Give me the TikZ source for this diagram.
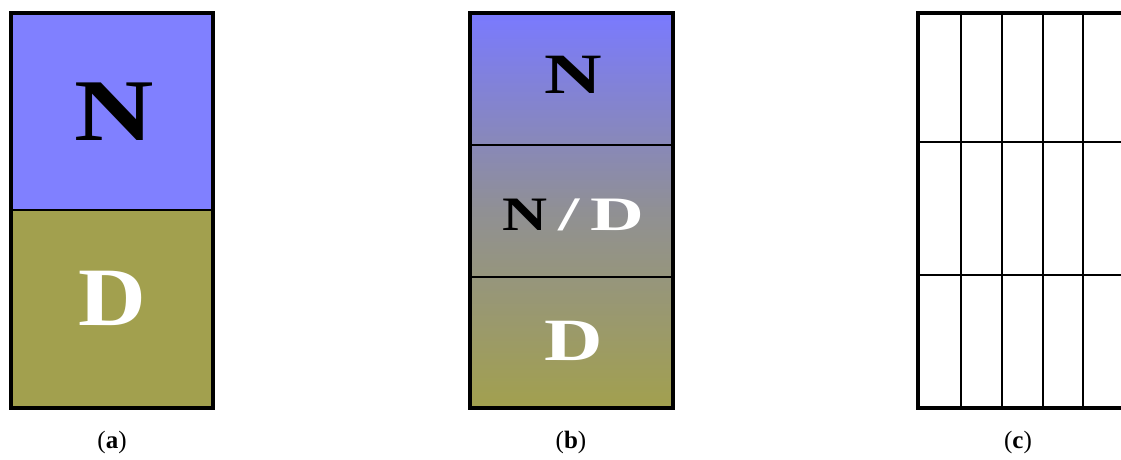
\documentclass[tikz,border=0pt]{standalone}
\usepackage{fontspec}
\setmainfont{Liberation Serif}
\definecolor{nblue}{HTML}{8080FF}
\definecolor{dolive}{HTML}{A2A04E}
\definecolor{midgray}{HTML}{909094}
\newcommand{\wide}[2]{\scalebox{#1}[1]{#2}}
\tikzset{
  outer/.style={draw=black,line width=3.8pt},
  divline/.style={draw=black,line width=2.3pt},
  letter/.style={inner sep=0pt,anchor=base},
  caption/.style={font=\fontsize{25}{25}\selectfont,inner sep=0pt}
}
\begin{document}
\begin{tikzpicture}[x=1pt,y=-1pt]
\clip (0,0) rectangle (1121,459);
\useasboundingbox (0,0) rectangle (1121,459);
\fill[white] (0,0) rectangle (1121,459);
% (a)
\fill[nblue] (11,13) rectangle (213,210);
\fill[dolive] (11,210) rectangle (213,408);
\draw[divline] (11,210) -- (213,210);
\draw[outer] (11,13) rectangle (213,408);
\node[letter,text=black,font=\fontsize{88}{88}\selectfont\bfseries] (aN) at (114,140) {\wide{1.25}{N}};
\node[letter,text=white,font=\fontsize{83}{83}\selectfont\bfseries] (aD) at (112,325) {\wide{1.13}{D}};
\node[caption] (ca) at (112,442) {(\textbf{a})};
% (b)
\shade[top color=nblue!95!blue, bottom color=dolive, middle color=midgray] (470,13) rectangle (673,408);
\draw[divline] (470,145) -- (673,145);
\draw[divline] (470,277) -- (673,277);
\draw[outer] (470,13) rectangle (673,408);
\node[letter,text=black,font=\fontsize{57}{57}\selectfont\bfseries] (bN) at (573,93) {\wide{1.4}{N}};
\node[letter,text=black,font=\fontsize{48}{48}\selectfont\bfseries] (bN2) at (525,230) {\wide{1.3}{N}};
\node[letter,text=white,font=\fontsize{48}{48}\selectfont\bfseries] (bS) at (569,230) {\wide{1.6}{/}};
\node[letter,text=white,font=\fontsize{48}{48}\selectfont\bfseries] (bD2) at (617,230) {\wide{1.55}{D}};
\node[letter,text=white,font=\fontsize{60}{60}\selectfont\bfseries] (bD) at (574,360) {\wide{1.35}{D}};
\node[caption] (cb) at (571,442) {(\textbf{b})};
% (c)
\foreach \x in {961,1002,1043,1083} \draw[divline] (\x,13) -- (\x,408);
\draw[divline] (918,142) -- (1125,142);
\draw[divline] (918,275) -- (1125,275);
\draw[outer] (918,13) rectangle (1126,408);
\node[caption] (cc) at (1018,442) {(\textbf{c})};
\end{tikzpicture}
\end{document}
